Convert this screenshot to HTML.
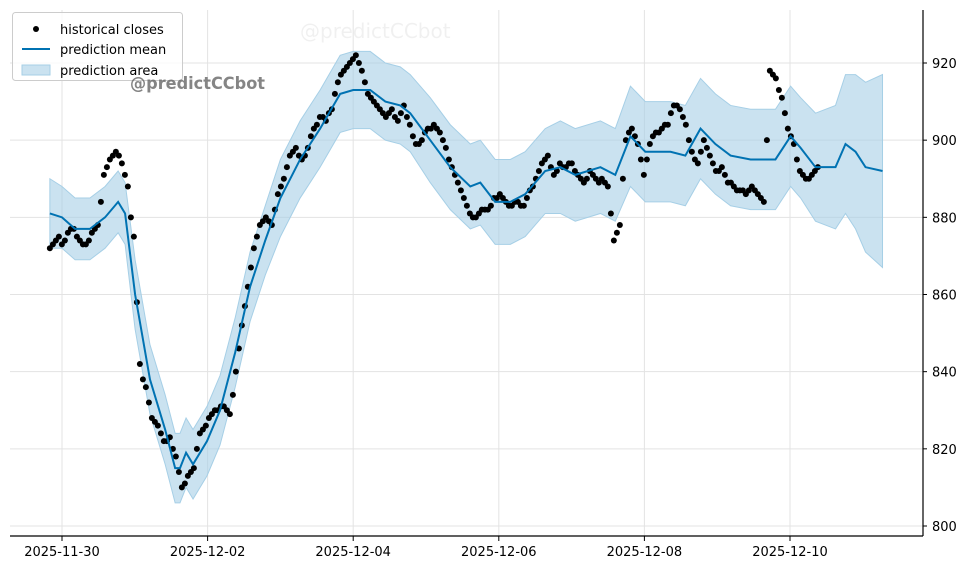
<!DOCTYPE html>
<html><head><meta charset="utf-8"><style>
body{margin:0;background:#fff;}
svg text{font-family:"DejaVu Sans","Liberation Sans",sans-serif;}
</style></head><body>
<svg id="chart" width="970" height="570" xmlns="http://www.w3.org/2000/svg">
<g id="grid"></g>
<g id="band"></g>
<g id="dots"></g>
<g id="mean"></g>
<g id="axes"></g>
<text x="300" y="38" font-size="20" fill="#000" fill-opacity="0.06">@predictCCbot</text>
<g>
<rect x="12.5" y="12.5" width="170" height="68" rx="3" fill="#fff" fill-opacity="0.8" stroke="#ccc"/>
<circle cx="36" cy="29" r="3" fill="#000"/>
<text x="60" y="34" font-size="13">historical closes</text>
<line x1="22" y1="49" x2="50" y2="49" stroke="#0072b2" stroke-width="2"/>
<text x="60" y="54" font-size="13">prediction mean</text>
<rect x="22" y="65" width="28" height="10" fill="#a6cfe6" fill-opacity="0.6" stroke="#a6cfe6"/>
<text x="60" y="75" font-size="13">prediction area</text>
</g>
<text x="130" y="89" font-size="17" font-weight="bold" fill="#666" fill-opacity="0.8" textLength="135" lengthAdjust="spacingAndGlyphs">@predictCCbot</text>
</svg>
<script>
const meanHours=[-4,0,4.3,9.2,14.2,18.5,20.8,24.1,29,34,37.3,38.9,40.9,43.2,47.8,52.1,57.1,62,67,72,78.5,85.1,91.7,96,101.6,106.6,111.5,114.8,121.4,128,134.6,137.9,142.8,147.8,152.7,159.3,164.3,169.2,177.5,182.4,187.4,192.3,197.3,200.6,205.5,210.5,215.4,220.4,227,235.2,240.2,243.5,248.4,255,258.3,261.6,264.9,270.5];
const meanVals=[881,880,877,877,880,884,881,860,838,825,815,815,819,816,822,830,845,862,874,885,895,903,912,913,913,910,909,907,900,893,888,889,884,884,886,892,893,891,893,891,901,897,897,897,896,903,899,896,895,895,901,898,893,893,899,897,893,892];
const halfWidth=[9,8,8,8,8,8,8,9,9,9,9,9,9,9,9,9,9,9,9,10,10,10,10,10,10,10,10,10,11,11,11,11,11,11,11,11,12,12,12,12,13,13,13,13,13,13,13,13,13,13,13,13,14,16,18,20,22,25];
const closeStartHour=-4;
const closeStepHours=1.978;
const closes=[872,874,873,876,877,874,873,876,878,891,895,897,894,888,875,842,836,828,826,822,823,818,810,813,815,824,826,829,830,831,829,840,852,862,872,878,880,878,886,890,896,898,895,898,903,906,905,908,915,918,920,922,918,912,910,908,906,908,905,909,904,899,900,903,904,902,898,893,889,885,881,880,882,882,885,886,884,883,884,883,887,890,894,896,891,894,893,894,891,889,892,890,890,888,874,878,900,903,899,891,899,902,903,904,909,908,904,897,894,900,896,892,893,889,888,887,886,888,886,884,918,916,911,903,899,892,890,891,893];
const closesBStartHour=-3;
const closesB=[873,875,874,877,875,873,874,877,884,893,896,896,891,880,858,838,832,827,824,822,820,814,811,814,820,825,828,830,831,830,834,846,857,867,875,879,879,882,888,893,897,896,896,901,904,906,907,912,917,919,921,920,915,911,909,907,907,906,907,906,901,899,902,903,903,900,895,891,887,883,880,881,882,883,885,885,883,884,883,885,888,892,895,893,892,893,894,892,890,890,891,889,889,881,876,890,902,901,895,895,901,902,904,907,909,906,900,895,897,898,894,892,891,889,887,887,887,887,885,900,917,913,907,901,895,891,890,892];
const yTicks=[800,820,840,860,880,900,920];
const xTickHours=[0,48,96,144,192,240];
const xTickLabels=["2025-11-30","2025-12-02","2025-12-04","2025-12-06","2025-12-08","2025-12-10"];

const NS="http://www.w3.org/2000/svg";
const X=h=>62+h*(145.6/48);
const Y=v=>526-(v-800)*(463/120);
function mk(t,a,p){const e=document.createElementNS(NS,t);for(const k in a)e.setAttribute(k,a[k]);p.appendChild(e);return e;}
const grid=document.getElementById('grid'),axes=document.getElementById('axes');
yTicks.forEach(v=>{
  const l=mk('line',{x1:10,x2:923,y1:Y(v),y2:Y(v),stroke:'#e3e3e3','stroke-width':1},grid);
  
  
  const t=mk('line',{x1:923,x2:927,y1:Y(v),y2:Y(v),stroke:'#000'},axes);
  
  
  const tx=mk('text',{x:932,y:Y(v)+5,'font-size':13},axes);tx.textContent=v;
  
  
});
xTickHours.forEach((h,i)=>{
  const l=mk('line',{x1:X(h),x2:X(h),y1:10,y2:536,stroke:'#e3e3e3'},grid);
  
  
  const t=mk('line',{x1:X(h),x2:X(h),y1:536,y2:541,stroke:'#000'},axes);
  
  
  const tx=mk('text',{x:X(h),y:556,'font-size':13,'text-anchor':'middle'},axes);tx.textContent=xTickLabels[i];
  
  
});
const sp=mk('line',{x1:10,x2:923,y1:536,y2:536,stroke:'#000','stroke-width':1.2},axes);


const sp2=mk('line',{x1:923,x2:923,y1:10,y2:536,stroke:'#000','stroke-width':1.2},axes);


let up=meanHours.map((h,i)=>X(h)+','+Y(meanVals[i]+halfWidth[i]));
let lo=meanHours.map((h,i)=>X(h)+','+Y(meanVals[i]-halfWidth[i])).reverse();
const band=mk('polygon',{points:up.concat(lo).join(' '),fill:'#a6cfe6','fill-opacity':0.6,stroke:'#a6cfe6','stroke-width':1},document.getElementById('band'));


const ml=mk('polyline',{points:meanHours.map((h,i)=>X(h)+','+Y(meanVals[i])).join(' '),fill:'none',stroke:'#0072b2','stroke-width':2},document.getElementById('mean'));


const dg=document.getElementById('dots');
closes.forEach((v,i)=>{
  const c=mk('circle',{cx:X(closeStartHour+i*closeStepHours),cy:Y(v),r:3,fill:'#000'},dg);
  
  
});
closesB.forEach((v,i)=>{
  const c=mk('circle',{cx:X(closesBStartHour+i*closeStepHours),cy:Y(v),r:3,fill:'#000'},dg);
  
  
});
</script>
</body></html>
